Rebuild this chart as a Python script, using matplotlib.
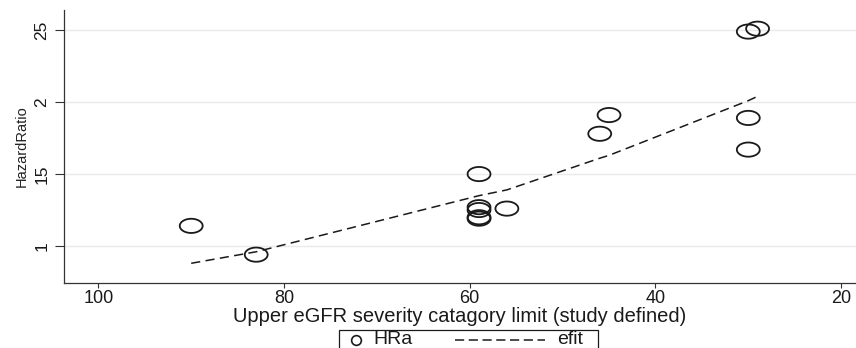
import matplotlib
matplotlib.use("Agg")
import matplotlib.pyplot as plt
from matplotlib.path import Path
from matplotlib.lines import Line2D
from matplotlib.patches import Rectangle
import numpy as np

# Data
egfr_limit = [90, 83, 59, 59, 59, 59, 59, 56, 46, 45, 30, 29, 30, 30]
hr_a = [1.14, 0.94, 1.50, 1.27, 1.25, 1.20, 1.19, 1.26, 1.78, 1.91, 2.49, 2.51, 1.89, 1.67]

fit_x = [90, 83, 59, 56, 46, 45, 30, 29]
fit_y = [0.88, 0.96, 1.35, 1.39, 1.61, 1.63, 2.01, 2.04]

ytick_vals = [1, 1.5, 2, 2.5]
ytick_labels = ["1", "15", "2", "25"]
xtick_vals = [100, 80, 60, 40, 20]
xtick_labels = ["100", "80", "60", "40", "20"]

plt.rcParams['font.family'] = ['Liberation Sans', 'DejaVu Sans']

W, H = 856, 348
fig = plt.figure(figsize=(W/100, H/100), dpi=100)
ax = fig.add_axes([64/W, 1 - 283/H, 1 - 64/W, (283 - 10)/H])

# elliptical marker (image is horizontally stretched)
t = np.linspace(0, 2*np.pi, 60)
ell = Path(np.column_stack([np.cos(t), 0.62*np.sin(t)]), closed=True)

ax.plot(fit_x, fit_y, linestyle=(0, (6, 3.5)), color='#1a1a1a', lw=1.1, label='efit', zorder=2)
ax.scatter(egfr_limit, hr_a, marker=ell, s=16.5**2, facecolors='none',
           edgecolors='#1a1a1a', linewidths=1.3, label='HRa', zorder=3)

ax.set_xlim(103.7, 18.4)
ax.set_ylim(0.743, 2.64)

ax.set_yticks(ytick_vals)
ax.set_yticklabels(ytick_labels, rotation=90, va='center', fontsize=12.5)
ax.set_xticks(xtick_vals)
ax.set_xticklabels(xtick_labels, fontsize=13)

ax.tick_params(axis='y', length=6.5, width=0.8, pad=4, colors='#333333', labelcolor='#1a1a1a')
ax.tick_params(axis='x', length=3.6, width=0.8, pad=1.5, colors='#333333', labelcolor='#1a1a1a')

ax.grid(axis='y', color='#eaeaea', lw=1.0)
ax.set_axisbelow(True)
for s in ['top', 'right']:
    ax.spines[s].set_visible(False)
for s in ['left', 'bottom']:
    ax.spines[s].set_color('#333333')
    ax.spines[s].set_linewidth(0.9)

ax.set_xlabel("Upper eGFR severity catagory limit (study defined)", fontsize=14.5,
              labelpad=0, color='#1a1a1a')
ax.set_ylabel("HazardRatio", fontsize=10.5, color='#222222', labelpad=4)

# Legend box (partly cut by the bottom edge, as in the reference)
def fx(px):
    return px / W

def fy(py):
    return 1 - py / H

fig.patches.append(Rectangle((fx(339), fy(352)), fx(598) - fx(339), fy(330) - fy(352),
                             transform=fig.transFigure, fill=False, edgecolor='#1a1a1a',
                             lw=0.9, clip_on=False))
ly = fy(340)
fig.lines.append(Line2D([fx(356)], [ly], transform=fig.transFigure, marker='o',
                        linestyle='none', markerfacecolor='none', markeredgecolor='#1a1a1a',
                        markersize=7, markeredgewidth=1.2))
fig.text(fx(373), ly, 'HRa', fontsize=14, va='center', ha='left', color='#1a1a1a')
fig.lines.append(Line2D([fx(455), fx(545)], [ly, ly], transform=fig.transFigure,
                        linestyle=(0, (6, 3)), color='#1a1a1a', lw=1.1))
fig.text(fx(557), ly, 'efit', fontsize=14, va='center', ha='left', color='#1a1a1a')

fig.savefig("out.png", dpi=100)
